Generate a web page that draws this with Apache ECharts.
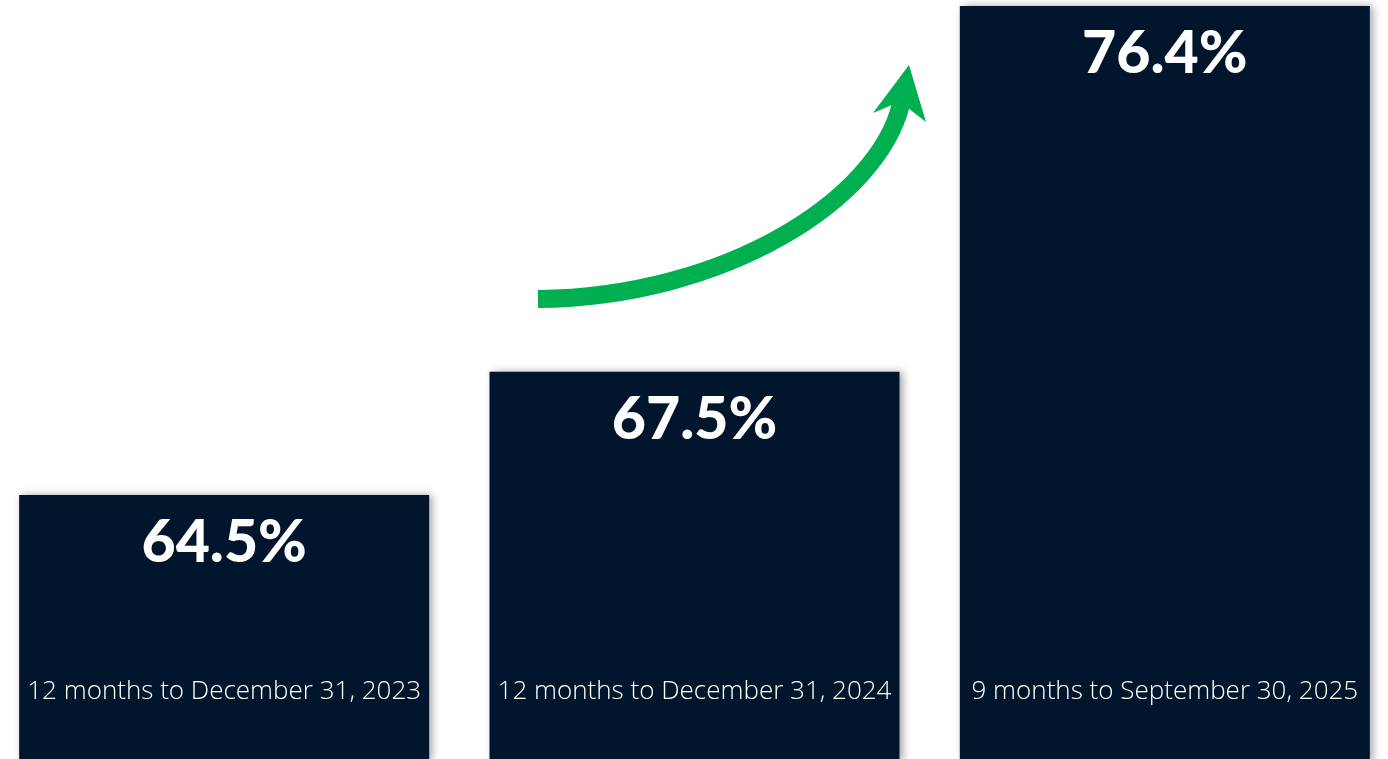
<!DOCTYPE html>
<html>
<head>
<meta charset="utf-8">
<title>Ratio by period</title>
<script src="https://cdn.jsdelivr.net/npm/echarts@6/dist/echarts.min.js"></script>
<style>
  html, body { margin: 0; padding: 0; background: #ffffff; }
  #chart { width: 1388px; height: 759px; }
</style>
</head>
<body>
<div id="chart"></div>
<script>
// Periods shown on the category axis
const periods = [
  '12 months to December 31, 2023',
  '12 months to December 31, 2024',
  '9 months to September 30, 2025'
];
// Percentage for each period
const ratios = [64.5, 67.5, 76.4];

const BAR_COLOR = '#01152D';
const ARROW_COLOR = '#00B050';

const chart = echarts.init(document.getElementById('chart'), null, { renderer: 'canvas' });

chart.setOption({
  backgroundColor: '#ffffff',
  animation: false,
  grid: { left: -11, top: 6, width: 1411, height: 756, outerBoundsMode: 'none', containLabel: false },
  xAxis: {
    type: 'category',
    data: periods,
    z: 10,
    axisLine: { show: false },
    axisTick: { show: false },
    axisLabel: {
      inside: true,
      interval: 0,
      margin: 70,
      verticalAlign: 'middle',
      color: '#ffffff',
      fontFamily: '"Open Sans", sans-serif',
      fontWeight: 300,
      fontSize: 26
    }
  },
  yAxis: {
    type: 'value',
    min: 58,
    max: 76.4,
    show: false,
    splitLine: { show: false }
  },
  series: [{
    type: 'bar',
    data: ratios,
    barWidth: 410,
    itemStyle: {
      color: BAR_COLOR,
      shadowColor: 'rgba(0,0,0,0.35)',
      shadowBlur: 8,
      shadowOffsetX: 3
    },
    label: {
      show: true,
      position: ['50%', 48],
      align: 'center',
      verticalAlign: 'middle',
      color: '#ffffff',
      fontFamily: 'Lato, sans-serif',
      fontWeight: 900,
      fontSize: 59,
      formatter: p => p.value.toFixed(1) + '%'
    }
  }],
  graphic: [
    {
      // rising arrow shaft
      type: 'bezierCurve',
      z: 20,
      shape: { x1: 538, y1: 299, cpx1: 725, cpy1: 297, cpx2: 878, cpy2: 200, x2: 901, y2: 104 },
      style: { stroke: ARROW_COLOR, lineWidth: 18, fill: null, lineCap: 'butt' }
    },
    {
      // arrow head
      type: 'polygon',
      z: 21,
      shape: { points: [[909, 65], [926, 122], [908, 108], [892, 105], [873, 113]] },
      style: { fill: ARROW_COLOR }
    }
  ]
});
</script>
</body>
</html>
